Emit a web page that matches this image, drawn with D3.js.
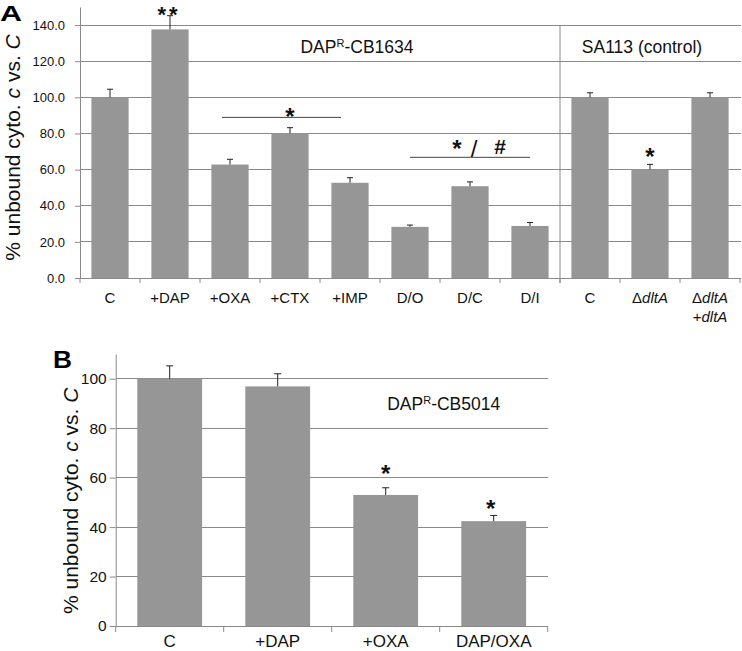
<!DOCTYPE html>
<html><head><meta charset="utf-8">
<script src="https://cdn.jsdelivr.net/npm/d3@7"></script>
<style>
body{margin:0;background:#fff;}
svg{display:block;font-family:"Liberation Sans",Arial,sans-serif;}
</style></head>
<body><svg id="chart" width="742" height="651"></svg>
<script>
// ---- Data, panel A ----
const catsA = ["C","+DAP","+OXA","+CTX","+IMP","D/O","D/C","D/I","C_s","dltA","dltA_c"];
const valuesA = [100, 137.6, 62.8, 80.1, 52.7, 28.3, 50.8, 28.8, 100, 60.1, 100];
const errA = [4.5, 7.6, 2.9, 3.1, 2.8, 1.0, 2.4, 1.9, 2.5, 2.8, 2.5];
const ticksA = [0, 20, 40, 60, 80, 100, 120, 140];
// ---- Data, panel B ----
const catsB = ["C","+DAP","+OXA","DAP/OXA"];
const valuesB = [100, 96.9, 53.0, 42.4];
const errB = [5.2, 5.1, 2.9, 2.3];
const ticksB = [0, 20, 40, 60, 80, 100];

const svg = d3.select("#chart");
const BAR = "#969696", GRID = "#8a8a8a";

// ================= Panel A =================
const xA = d3.scaleBand().domain(catsA).range([80, 740]).paddingInner(0.38).paddingOuter(0.19);
const yA = d3.scaleLinear().domain([0, 150]).range([278, 7]);
const gA = svg.append("g");

gA.selectAll("line.grid").data(ticksA.filter(t => t > 0)).join("line")
  .attr("x1", 80).attr("x2", 741).attr("y1", d => yA(d)).attr("y2", d => yA(d))
  .attr("stroke", GRID).attr("stroke-width", 1).attr("shape-rendering","crispEdges");

const axA = gA.append("g").attr("transform", "translate(80,0)")
  .call(d3.axisLeft(yA).tickValues(ticksA).tickFormat(d3.format(".1f")).tickSize(5).tickSizeOuter(0).tickPadding(10));
axA.select(".domain").attr("stroke", GRID);
axA.selectAll(".tick line").attr("stroke", GRID);
axA.selectAll(".tick text").attr("font-size", 13).attr("fill", "#111").attr("font-family","Liberation Sans, Arial, sans-serif");

const stepA = xA.step();
gA.append("line").attr("x1", 80).attr("x2", 741).attr("y1", yA(0)).attr("y2", yA(0))
  .attr("stroke", GRID).attr("shape-rendering","crispEdges");
gA.selectAll("line.xt").data(d3.range(catsA.length + 1)).join("line")
  .attr("x1", i => 80 + i * stepA).attr("x2", i => 80 + i * stepA)
  .attr("y1", yA(0)).attr("y2", yA(0) + 5).attr("stroke", GRID);

const divX = (xA("D/I") + xA.bandwidth() + xA("C_s")) / 2;
gA.append("line").attr("x1", divX).attr("x2", divX).attr("y1", yA(140)).attr("y2", yA(0) + 5)
  .attr("stroke", GRID);

gA.selectAll("rect.bar").data(catsA).join("rect")
  .attr("x", d => xA(d)).attr("width", xA.bandwidth())
  .attr("y", (d, i) => yA(valuesA[i])).attr("height", (d, i) => yA(0) - yA(valuesA[i]))
  .attr("fill", BAR);

function errBars(g, cats, vals, errs, x, y, cap) {
  cats.forEach((c, i) => {
    const cx = x(c) + x.bandwidth() / 2;
    g.append("line").attr("x1", cx).attr("x2", cx).attr("y1", y(vals[i])).attr("y2", y(vals[i] + errs[i]))
      .attr("stroke", "#222").attr("stroke-width", 1);
    g.append("line").attr("x1", cx - cap).attr("x2", cx + cap).attr("y1", y(vals[i] + errs[i])).attr("y2", y(vals[i] + errs[i]))
      .attr("stroke", "#222").attr("stroke-width", 1);
  });
}
errBars(gA, catsA, valuesA, errA, xA, yA, 3);

const labelsA = ["C","+DAP","+OXA","+CTX","+IMP","D/O","D/C","D/I","C"];
labelsA.forEach((t, i) => {
  const c = catsA[i];
  gA.append("text").attr("x", xA(c) + xA.bandwidth() / 2).attr("y", yA(0) + 25)
    .attr("text-anchor", "middle").attr("font-size", 15).attr("fill", "#111").text(t);
});
{
  const cx1 = xA("dltA") + xA.bandwidth() / 2;
  const t1 = gA.append("text").attr("x", cx1).attr("y", yA(0) + 25).attr("text-anchor","middle").attr("font-size", 15).attr("fill","#111");
  t1.append("tspan").text("Δ"); t1.append("tspan").attr("font-style","italic").text("dltA");
  const cx2 = xA("dltA_c") + xA.bandwidth() / 2;
  const t2 = gA.append("text").attr("x", cx2).attr("y", yA(0) + 25).attr("text-anchor","middle").attr("font-size", 15).attr("fill","#111");
  t2.append("tspan").text("Δ"); t2.append("tspan").attr("font-style","italic").text("dltA");
  const t3 = gA.append("text").attr("x", cx2).attr("y", yA(0) + 44).attr("text-anchor","middle").attr("font-size", 15).attr("fill","#111");
  t3.append("tspan").text("+"); t3.append("tspan").attr("font-style","italic").text("dltA");
}

function yTitle(g, x, yc) {
  const t = g.append("text").attr("transform", `translate(${x},${yc}) rotate(-90)`)
    .attr("text-anchor", "middle").attr("font-size", 21).attr("fill", "#111");
  t.append("tspan").text("% unbound cyto. ");
  t.append("tspan").attr("font-style","italic").text("c");
  t.append("tspan").text(" vs. ");
  t.append("tspan").attr("font-style","italic").text("C");
}
yTitle(gA, 20, 147.5);

svg.append("text").attr("x", 0).attr("y", 21).attr("font-size", 22).attr("font-weight", "bold")
  .attr("textLength", 22).attr("lengthAdjust","spacingAndGlyphs").attr("fill","#000").text("A");

function strainTitle(g, x, y, name) {
  const t = g.append("text").attr("x", x).attr("y", y).attr("text-anchor","middle").attr("font-size", 17.5).attr("fill","#111");
  t.append("tspan").text("DAP");
  t.append("tspan").attr("font-size", 11).attr("dy", -6).text("R");
  t.append("tspan").attr("dy", 6).text("-" + name);
}
strainTitle(gA, xA("+IMP") + xA.bandwidth() / 2 + 7, yA(124.7), "CB1634");
gA.append("text").attr("x", xA("dltA") + xA.bandwidth() / 2 - 8).attr("y", yA(124.7))
  .attr("text-anchor","middle").attr("font-size", 17.5).attr("fill","#111").text("SA113 (control)");

function star(g, x, yv, fs, txt, ls) {
  g.append("text").attr("x", x).attr("y", yv + 0.57 * fs).attr("text-anchor","middle")
    .attr("font-size", fs).attr("font-weight","bold").attr("letter-spacing", ls || 0)
    .attr("fill","#111").text(txt);
}
const cA = c => xA(c) + xA.bandwidth() / 2;
star(gA, cA("+DAP") - 1, yA(148.6), 22, "**", 3);
star(gA, cA("+CTX"), yA(92.0), 24, "*");
star(gA, cA("D/C") - 13, yA(74.5), 24, "*");
star(gA, cA("dltA"), yA(70.3), 24, "*");
gA.append("text").attr("x", cA("D/C") + 4).attr("y", yA(66.8)).attr("text-anchor","middle")
  .attr("font-size", 24).attr("fill","#111").text("/");
gA.append("text").attr("x", cA("D/C") + 30).attr("y", yA(68.9)).attr("text-anchor","middle")
  .attr("font-size", 21).attr("font-weight","bold").attr("fill","#111").text("#");
gA.append("line").attr("x1", cA("+OXA") - 8).attr("x2", cA("+IMP") - 9).attr("y1", yA(88.9)).attr("y2", yA(88.9))
  .attr("stroke", "#444").attr("stroke-width", 1);
gA.append("line").attr("x1", cA("D/O")).attr("x2", cA("D/I")).attr("y1", yA(66.8)).attr("y2", yA(66.8))
  .attr("stroke", "#444").attr("stroke-width", 1);

// ================= Panel B =================
const xB = d3.scaleBand().domain(catsB).range([115.7, 547.7]).paddingInner(0.4).paddingOuter(0.2);
const yB = d3.scaleLinear().domain([0, 110]).range([626, 354]);
const gB = svg.append("g");

gB.selectAll("line.grid").data(ticksB.filter(t => t > 0)).join("line")
  .attr("x1", 115.7).attr("x2", 547.7).attr("y1", d => yB(d)).attr("y2", d => yB(d))
  .attr("stroke", GRID).attr("stroke-width", 1).attr("shape-rendering","crispEdges");
const axB = gB.append("g").attr("transform", "translate(115.7,0)")
  .call(d3.axisLeft(yB).tickValues(ticksB).tickFormat(d3.format("d")).tickSize(6).tickSizeOuter(0).tickPadding(3));
axB.select(".domain").attr("stroke", GRID);
axB.selectAll(".tick line").attr("stroke", GRID);
axB.selectAll(".tick text").attr("font-size", 15.5).attr("fill", "#111").attr("font-family","Liberation Sans, Arial, sans-serif");

const stepB = xB.step();
gB.append("line").attr("x1", 115.7).attr("x2", 547.7).attr("y1", yB(0)).attr("y2", yB(0))
  .attr("stroke", GRID).attr("shape-rendering","crispEdges");
gB.selectAll("line.xt").data(d3.range(catsB.length + 1)).join("line")
  .attr("x1", i => 115.7 + i * stepB).attr("x2", i => 115.7 + i * stepB)
  .attr("y1", yB(0)).attr("y2", yB(0) + 6).attr("stroke", GRID);

gB.selectAll("rect.bar").data(catsB).join("rect")
  .attr("x", d => xB(d)).attr("width", xB.bandwidth())
  .attr("y", (d, i) => yB(valuesB[i])).attr("height", (d, i) => yB(0) - yB(valuesB[i]))
  .attr("fill", BAR);
errBars(gB, catsB, valuesB, errB, xB, yB, 3.5);

catsB.forEach(c => {
  gB.append("text").attr("x", xB(c) + xB.bandwidth() / 2).attr("y", yB(0) + 21)
    .attr("text-anchor","middle").attr("font-size", 17).attr("fill","#111").text(c);
});
yTitle(gB, 78, 500.8);
svg.append("text").attr("x", 53).attr("y", 368).attr("font-size", 23).attr("font-weight","bold")
  .attr("textLength", 19).attr("lengthAdjust","spacingAndGlyphs").attr("fill","#000").text("B");
const cB = c => xB(c) + xB.bandwidth() / 2;
strainTitle(gB, (cB("+OXA") + cB("DAP/OXA")) / 2 + 4, yB(87.4), "CB5014");
star(gB, cB("+OXA"), yB(63.8), 24, "*");
star(gB, cB("DAP/OXA") - 3, yB(49.6), 24, "*");
</script></body></html>
